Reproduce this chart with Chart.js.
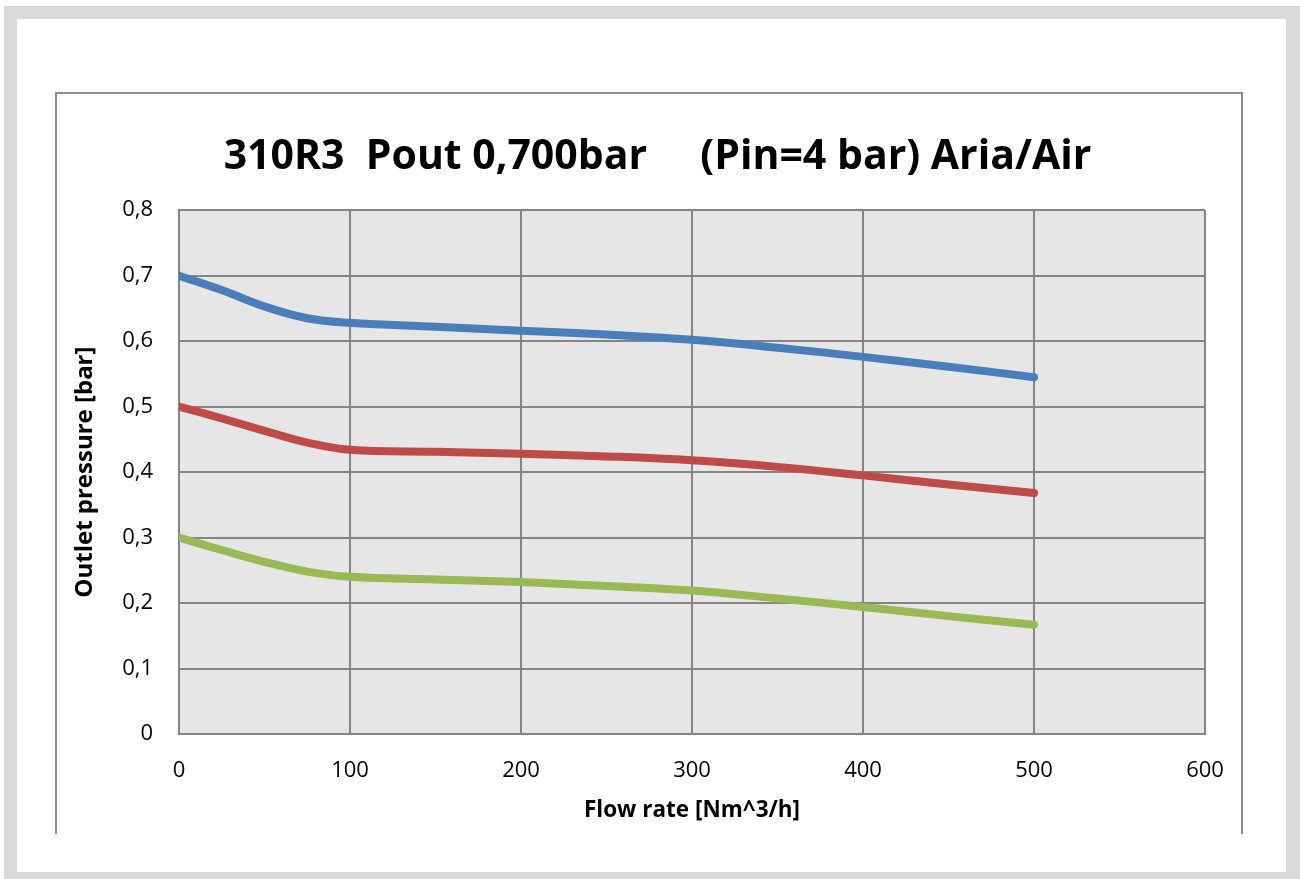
<!DOCTYPE html>
<html>
<head>
<meta charset="utf-8">
<script src="https://cdn.jsdelivr.net/npm/chart.js@4.4.1/dist/chart.umd.min.js"></script>
<style>
  html, body { margin: 0; padding: 0; background: #fff; }
  #wrap { position: relative; width: 1300px; height: 879px; overflow: hidden; }
  #outer { position: absolute; left: 4px; top: 6px; width: 1296px; height: 873px;
           border-style: solid; border-color: #d9d9d9; border-width: 13px 14px 7px 13px; box-sizing: border-box; }
  #frame { position: absolute; left: 55px; top: 92px; width: 1188px; height: 742px;
           border: 2px solid #8e8e8e; border-bottom: none; box-sizing: border-box; }
  #c { position: absolute; left: 0; top: 0; }
</style>
</head>
<body>
<div id="wrap">
  <div id="outer"></div>
  <div id="frame"></div>
  <canvas id="c" width="1300" height="879"></canvas>
</div>
<script>
// flow rate [Nm^3/h]
var flow = [0, 25, 50, 75, 100, 150, 200, 250, 300, 350, 400, 450, 500];
// outlet pressure [bar]
var p700 = [0.700, 0.678, 0.653, 0.635, 0.628, 0.622, 0.616, 0.610, 0.602, 0.590, 0.576, 0.561, 0.545];
var p500 = [0.500, 0.482, 0.463, 0.445, 0.434, 0.431, 0.428, 0.424, 0.418, 0.408, 0.395, 0.381, 0.368];
var p300 = [0.300, 0.281, 0.263, 0.248, 0.240, 0.236, 0.232, 0.226, 0.219, 0.207, 0.194, 0.180, 0.167];

var titleText = '310R3  Pout 0,700bar     (Pin=4 bar) Aria/Air';
var xTitle = 'Flow rate [Nm^3/h]';
var yTitle = 'Outlet pressure [bar]';

var font = '"Open Sans", "Noto Sans", sans-serif';
var gridCol = '#858585';

function pts(ys) {
    return flow.map(function(x, i) { return { x: x, y: ys[i] }; });
}

function line(ys, color) {
    return {
        data: pts(ys),
        borderColor: color,
        backgroundColor: color,
        borderWidth: 8,
        borderCapStyle: 'round',
        pointRadius: 0,
        tension: 0.4,
        fill: false
    };
}

// grey plot area like the spreadsheet
var plotBg = {
    id: 'plotBg',
    beforeDraw: function(chart) {
        var a = chart.chartArea, ctx = chart.ctx;
        ctx.save();
        ctx.fillStyle = '#e6e6e6';
        ctx.fillRect(a.left, a.top, a.right - a.left, a.bottom - a.top);
        ctx.restore();
    }
};

new Chart(document.getElementById('c'), {
    type: 'line',
    data: {
        datasets: [line(p700, '#4a7ebb'), line(p500, '#be4b48'), line(p300, '#98b954')]
    },
    plugins: [plotBg],
    options: {
        responsive: false,
        animation: false,
        devicePixelRatio: 1,
        layout: { padding: { left: 55, right: 40, top: 92, bottom: 35 } },
        plugins: {
            legend: { display: false },
            tooltip: { enabled: false },
            title: {
                display: true,
                text: titleText,
                color: '#000',
                font: { family: font, size: 41, weight: 'bold' },
                padding: { top: 41, bottom: 28 }
            }
        },
        scales: {
            x: {
                type: 'linear',
                min: 0,
                max: 600,
                ticks: { stepSize: 100, color: '#000', padding: 24, font: { family: font, size: 22 } },
                grid: { color: gridCol, lineWidth: 2, drawTicks: false },
                border: { color: gridCol, width: 2 },
                title: { display: true, text: xTitle, color: '#000',
                         font: { family: font, size: 22.5, weight: 'bold' }, padding: { top: 20, bottom: 20 } },
                afterFit: function(s) { s.height = 110; }
            },
            y: {
                min: 0,
                max: 0.8,
                ticks: {
                    stepSize: 0.1, color: '#000', padding: 26, font: { family: font, size: 22 },
                    callback: function(v) { return v === 0 ? '0' : v.toFixed(1).replace('.', ','); }
                },
                grid: { color: gridCol, lineWidth: 2, drawTicks: false },
                border: { color: gridCol, width: 2 },
                title: { display: true, text: yTitle, color: '#000',
                         font: { family: font, size: 24, weight: 'bold' }, padding: { top: 16, bottom: 16 } },
                afterFit: function(s) { s.width = 124; }
            },
            // empty right axis, only to keep the title centred like the original
            y2: {
                position: 'right',
                display: true,
                ticks: { display: false },
                grid: { display: false },
                border: { display: false },
                afterFit: function(s) { s.width = 55; }
            }
        }
    }
});
</script>
</body>
</html>
